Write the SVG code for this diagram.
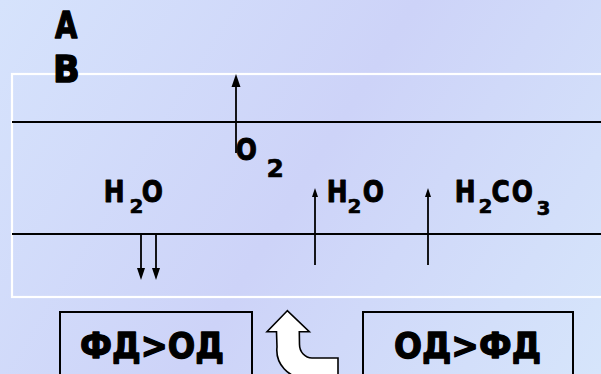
<svg xmlns="http://www.w3.org/2000/svg" width="601" height="374" viewBox="0 0 601 374">
<defs>
<linearGradient id="bg" x1="0" y1="0" x2="601" y2="374" gradientUnits="userSpaceOnUse">
<stop offset="0" stop-color="#d6e3fc"/>
<stop offset="0.5" stop-color="#cdd3f8"/>
<stop offset="1" stop-color="#d6e5fb"/>
</linearGradient>
</defs>
<style>
.t{font-family:"DejaVu Sans",sans-serif;font-weight:bold;fill:#000;stroke:#000;stroke-linejoin:round}
.m{font-size:30px;stroke-width:1}
.s{font-size:20px;stroke-width:0.6}
.b{font-size:36px;stroke-width:1.3}
.big{stroke-width:1.4}
.ln{stroke:#000;stroke-width:2;fill:none}
.ar{stroke:#000;stroke-width:1.8;fill:none}
.hd{fill:#000;stroke:none}
.box{fill:none;stroke:#000;stroke-width:2}
</style>
<rect width="601" height="374" fill="url(#bg)"/>
<rect x="12" y="74" width="600" height="223" fill="none" stroke="#fff" stroke-width="2.2"/>
<g id="membranes">
<line class="ln" x1="12" y1="122" x2="601" y2="122"/>
<line class="ln" x1="12" y1="234" x2="601" y2="234"/>
</g>
<g id="label-A"><text class="t big" font-size="37" transform="translate(55,38) scale(0.78,1)">А</text></g>
<g id="label-B"><text class="t big" font-size="37" transform="translate(53,82) scale(0.95,1)">В</text></g>
<g id="o2">
<text class="t m" transform="translate(235.8,160) scale(0.83,1)">O</text>
<text class="t s" font-size="25" x="266.5" y="177" style="font-size:25px">2</text>
</g>
<g id="h2o-left">
<text class="t m" transform="translate(103.7,202) scale(0.83,1)">H</text>
<text class="t s" x="129.6" y="213">2</text>
<text class="t m" transform="translate(141.8,202) scale(0.83,1)">O</text>
</g>
<g id="h2o-mid">
<text class="t m" transform="translate(326.7,202) scale(0.83,1)">H</text>
<text class="t s" x="347.6" y="213">2</text>
<text class="t m" transform="translate(362.8,202) scale(0.83,1)">O</text>
</g>
<g id="h2co3">
<text class="t m" transform="translate(454.7,202) scale(0.83,1)">H</text>
<text class="t s" x="478.6" y="213">2</text>
<text class="t m" transform="translate(491.6,202) scale(0.83,1)">C</text>
<text class="t m" transform="translate(511.8,202) scale(0.83,1)">O</text>
<text class="t s" x="536.6" y="215">3</text>
</g>
<g id="box-left">
<rect class="box" x="60" y="312" width="192" height="80"/>
<text class="t b" x="80" y="358" textLength="144" lengthAdjust="spacingAndGlyphs">ФД&gt;ОД</text>
</g>
<g id="box-right">
<rect class="box" x="363" y="312" width="210" height="80"/>
<text class="t b" x="394" y="358" textLength="147" lengthAdjust="spacingAndGlyphs">ОД&gt;ФД</text>
</g>
<g id="connectors">
<line class="ar" x1="236" y1="153" x2="236" y2="85"/>
<polygon class="hd" points="236,74 231.5,87 240.5,87"/>
<line class="ar" x1="141" y1="234" x2="141" y2="270"/>
<polygon class="hd" points="141,280 137,268 145,268"/>
<line class="ar" x1="156" y1="234" x2="156" y2="270"/>
<polygon class="hd" points="156,280 152,268 160,268"/>
<line class="ar" x1="315" y1="265" x2="315" y2="195"/>
<polygon class="hd" points="315,188 312,197 318,197"/>
<line class="ar" x1="428" y1="265" x2="428" y2="195"/>
<polygon class="hd" points="428,188 425,197 431,197"/>
<path d="M287.3,310.7 L267,331.7 L276.5,331.7 L277,347 A28,28 0 0 0 305,378 L338,378 L338,358 L312,358 A12.5,13.5 0 0 1 299.5,344.5 L299.3,331.7 L309.3,331.7 Z" fill="#fff" stroke="#000" stroke-width="1.6" stroke-linejoin="miter"/>
</g>
</svg>
